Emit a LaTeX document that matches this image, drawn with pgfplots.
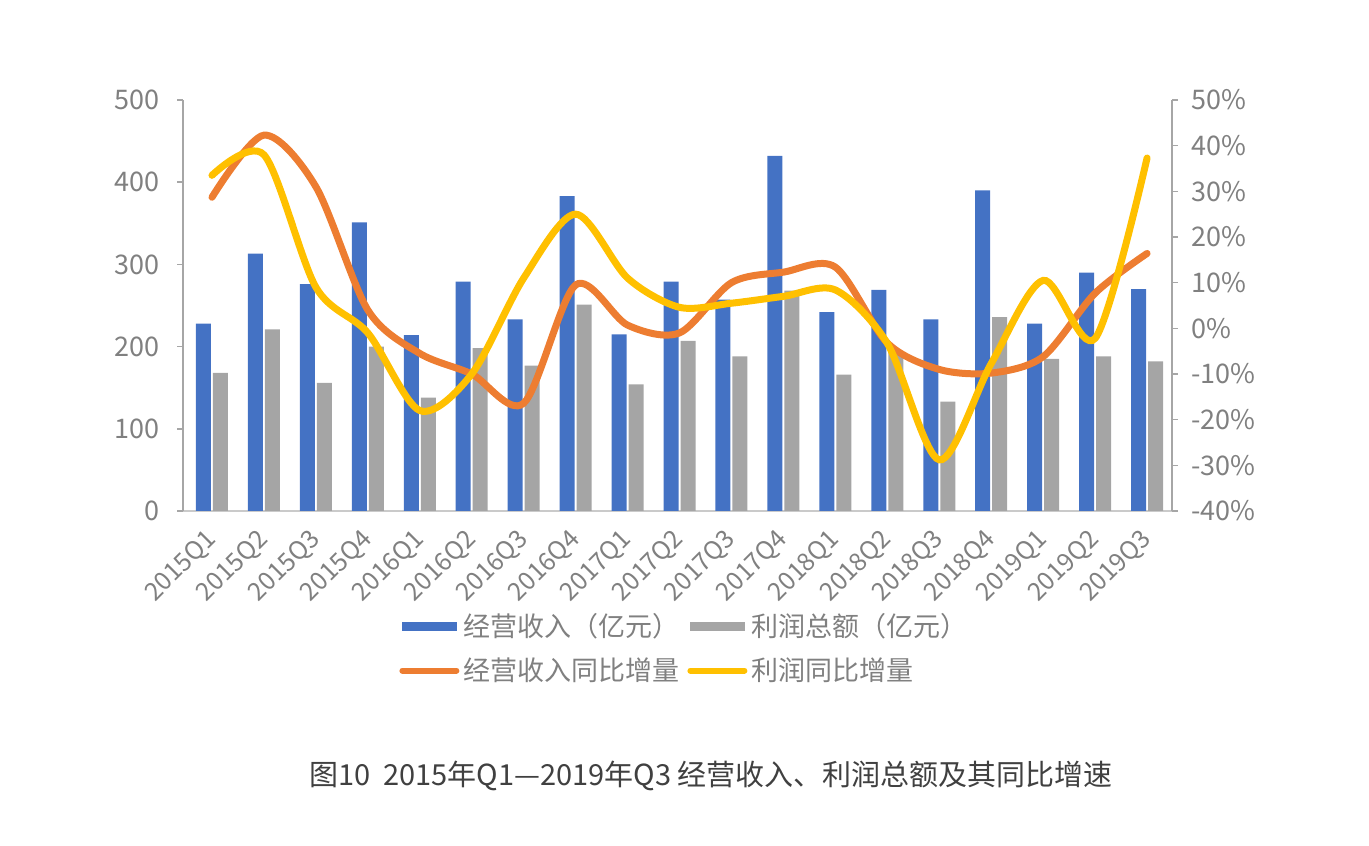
\documentclass[border=0pt]{standalone}
\usepackage{fontspec}
\setmainfont{Noto Sans CJK SC}
\usepackage{pgfplots}
\pgfplotsset{compat=1.18}
\definecolor{cblue}{HTML}{4472C4}
\definecolor{cgray}{HTML}{A5A5A5}
\definecolor{corange}{HTML}{ED7D31}
\definecolor{cyellow}{HTML}{FFC000}
\definecolor{tickgray}{HTML}{808080}
\definecolor{axisgray}{HTML}{A6A6A6}
\definecolor{captiongray}{HTML}{404040}
\begin{document}
\begin{tikzpicture}[x=1pt,y=1pt]
\path (0,0) rectangle (684.5,422.5);
\begin{axis}[
  at={(91.5pt,167pt)}, anchor=south west,
  scale only axis, width=494.5pt, height=205.5pt,
  xmin=-0.558, xmax=18.48, ymin=0, ymax=500,
  ybar=1pt, bar width=7.5pt,
  xtick={0,...,18},
  xticklabels={2015Q1,2015Q2,2015Q3,2015Q4,2016Q1,2016Q2,2016Q3,2016Q4,2017Q1,2017Q2,2017Q3,2017Q4,2018Q1,2018Q2,2018Q3,2018Q4,2019Q1,2019Q2,2019Q3},
  ytick={0,100,200,300,400,500},
  axis x line*=bottom, axis y line*=left,
  x axis line style={draw=axisgray!60, line width=0.8pt, -},
  y axis line style={draw=axisgray, line width=0.8pt, -},
  major x tick style={draw=none},
  ytick style={draw=axisgray, line width=0.8pt},
  tick align=outside, major tick length=3pt,
  /pgf/number format/assume math mode=true,
  yticklabel style={font=\fontsize{13.5}{14}\selectfont, text=tickgray, xshift=-5pt},
  xticklabel style={font=\fontsize{12.5}{13}\selectfont, text=tickgray, rotate=45, anchor=east, yshift=-6.6pt, xshift=-2.9pt},
  clip=false,
]
\addplot[fill=cblue, draw=none] coordinates {(0,228)(1,313)(2,276)(3,351)(4,214)(5,279)(6,233)(7,383)(8,215)(9,279)(10,257)(11,432)(12,242)(13,269)(14,233)(15,390)(16,228)(17,290)(18,270)};
\addplot[fill=cgray, draw=none] coordinates {(0,168)(1,221)(2,156)(3,200)(4,138)(5,198)(6,177)(7,251)(8,154)(9,207)(10,188)(11,268)(12,166)(13,192)(14,133)(15,236)(16,185)(17,188)(18,182)};
\end{axis}
\begin{axis}[
  at={(91.5pt,167pt)}, anchor=south west,
  scale only axis, width=494.5pt, height=205.5pt,
  xmin=-0.558, xmax=18.48, ymin=-40, ymax=50,
  axis x line=none, axis y line*=right,
  y axis line style={draw=axisgray, line width=0.8pt, -},
  ytick={-40,-30,...,50},
  ytick style={draw=axisgray, line width=0.8pt},
  tick align=outside, major tick length=3pt,
  /pgf/number format/assume math mode=true,
  yticklabel={\pgfmathprintnumber{\tick}\%},
  yticklabel style={font=\fontsize{13.5}{14}\selectfont, text=tickgray, xshift=3pt},
  legend columns=2,
  legend style={at={(0.508,-0.239)}, anchor=north, draw=none, fill=none,
    font=\fontsize{13.5}{14}\selectfont, text=tickgray,
    /tikz/every even column/.append style={column sep=2pt},
    row sep=5pt, inner sep=0pt},
  legend cell align=left,
  clip=false,
]
\addlegendimage{legend image code/.code={\fill[cblue] (0pt,-2pt) rectangle (27pt,2pt);}}
\addlegendentry{经营收入（亿元）}
\addlegendimage{legend image code/.code={\fill[cgray] (0pt,-2pt) rectangle (27pt,2pt);}}
\addlegendentry{利润总额（亿元）}
\addplot[corange, line width=3.5pt, smooth, line cap=round, legend image code/.code={\draw[corange, line width=3pt, line cap=round] (0pt,0pt) -- (27pt,0pt);}] coordinates {(0,28.7)(1,42.3)(2,31)(3,4)(4,-5.5)(5,-10)(6,-16.4)(7,9.5)(8,0.7)(9,-1)(10,10)(11,12.3)(12,13.4)(13,-3.2)(14,-9)(15,-9.8)(16,-6.2)(17,7.7)(18,16.4)};
\addlegendentry{经营收入同比增量}
\addplot[cyellow, line width=3.5pt, smooth, line cap=round, legend image code/.code={\draw[cyellow, line width=3pt, line cap=round] (0pt,0pt) -- (27pt,0pt);}] coordinates {(0,33.5)(1,38)(2,9)(3,-1)(4,-18)(5,-10)(6,11)(7,25)(8,11)(9,4.6)(10,5.5)(11,7)(12,8.4)(13,-3.3)(14,-28.8)(15,-7.7)(16,10.5)(17,-2.2)(18,37.3)};
\addlegendentry{利润同比增量}
\end{axis}
\node[text=captiongray, font=\fontsize{14.5}{16}\selectfont] at (355.5,34.5) {图10\ \ 2015年Q1—2019年Q3 经营收入、利润总额及其同比增速};
\end{tikzpicture}
\end{document}
